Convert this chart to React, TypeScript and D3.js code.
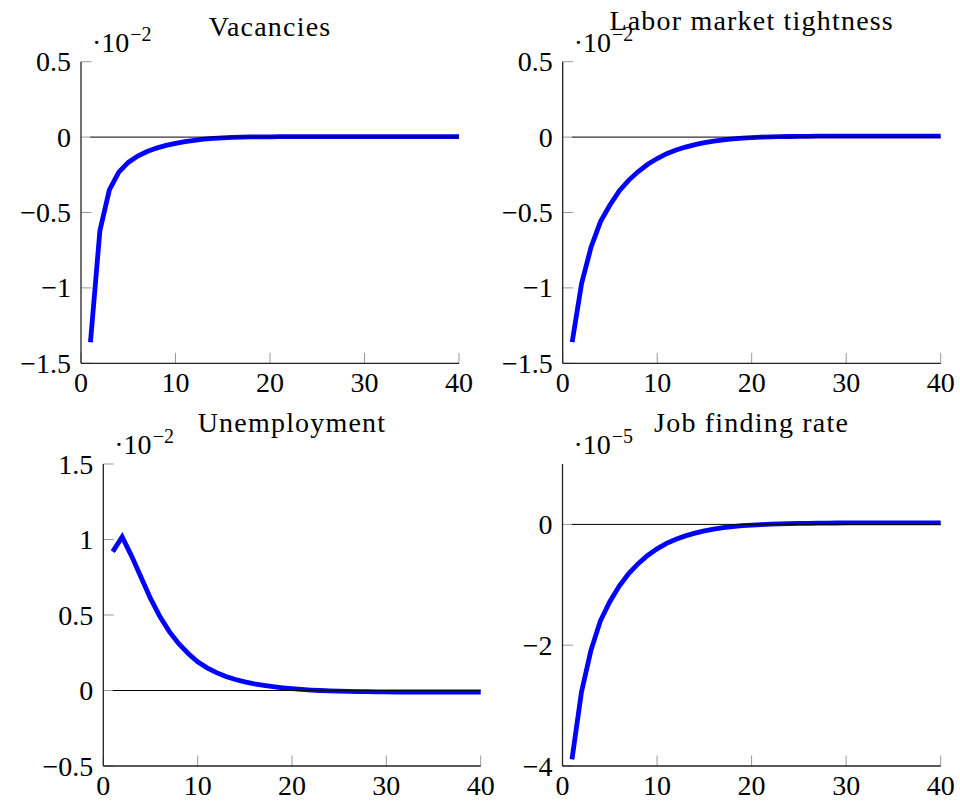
import React from "react";
import * as d3 from "d3";

// ---- Data (x = 1..40) ----
const periods: number[] = Array.from({ length: 40 }, (_, i) => i + 1);

const vacancies: number[] = [
  -1.36, -0.62, -0.35, -0.232, -0.168, -0.126, -0.096, -0.073, -0.055, -0.041,
  -0.03, -0.021, -0.014, -0.009, -0.005, -0.002, 0.0, 0.001, 0.002, 0.002,
  0.003, 0.003, 0.003, 0.003, 0.003, 0.003, 0.003, 0.003, 0.003, 0.003,
  0.003, 0.003, 0.003, 0.003, 0.003, 0.003, 0.003, 0.003, 0.003, 0.003,
];

const tightness: number[] = [
  -1.36, -0.97, -0.73, -0.56, -0.45, -0.355, -0.285, -0.228, -0.18, -0.142,
  -0.11, -0.086, -0.066, -0.05, -0.037, -0.027, -0.019, -0.012, -0.007, -0.003,
  0.0, 0.002, 0.003, 0.004, 0.005, 0.005, 0.006, 0.006, 0.006, 0.006,
  0.006, 0.006, 0.006, 0.006, 0.006, 0.006, 0.006, 0.006, 0.006, 0.006,
];

const unemployment: number[] = [
  0.92, 1.017, 0.89, 0.75, 0.61, 0.49, 0.39, 0.31, 0.245, 0.19,
  0.15, 0.118, 0.093, 0.073, 0.057, 0.044, 0.034, 0.025, 0.018, 0.012,
  0.007, 0.003, 0.0, -0.002, -0.004, -0.006, -0.007, -0.008, -0.009, -0.009,
  -0.01, -0.01, -0.01, -0.01, -0.01, -0.01, -0.01, -0.01, -0.01, -0.01,
];

const jobFinding: number[] = [
  -3.89, -2.78, -2.09, -1.6, -1.28, -1.02, -0.815, -0.65, -0.515, -0.405,
  -0.315, -0.245, -0.19, -0.145, -0.108, -0.078, -0.055, -0.036, -0.022, -0.011,
  -0.003, 0.004, 0.009, 0.013, 0.016, 0.018, 0.02, 0.022, 0.023, 0.024,
  0.025, 0.025, 0.025, 0.025, 0.025, 0.025, 0.025, 0.025, 0.025, 0.025,
];

const titles: string[] = ["Vacancies", "Labor market tightness", "Unemployment", "Job finding rate"];
const exponents: string[] = ["−2", "−2", "−2", "−5"];
const xTicks: number[] = [0, 10, 20, 30, 40];
const yTicksVac: number[] = [-1.5, -1, -0.5, 0, 0.5];
const yTicksTight: number[] = [-1.5, -1, -0.5, 0, 0.5];
const yTicksUnemp: number[] = [-0.5, 0, 0.5, 1, 1.5];
const yTicksJob: number[] = [-4, -2, 0];

// ---- Layout ----
type Panel = {
  title: string;
  exp: string;
  values: number[];
  yDomain: [number, number];
  yTicks: number[];
  left: number;
  right: number;
  top: number;
  bottom: number;
  titleY: number;
};

const panels: Panel[] = [
  { title: titles[0], exp: exponents[0], values: vacancies, yDomain: [-1.5, 0.5], yTicks: yTicksVac, left: 81, right: 459, top: 61.7, bottom: 363.3, titleY: 36 },
  { title: titles[1], exp: exponents[1], values: tightness, yDomain: [-1.5, 0.5], yTicks: yTicksTight, left: 562.7, right: 940.7, top: 61.7, bottom: 363.3, titleY: 30 },
  { title: titles[2], exp: exponents[2], values: unemployment, yDomain: [-0.5, 1.5], yTicks: yTicksUnemp, left: 103.3, right: 480.7, top: 464, bottom: 766, titleY: 432 },
  { title: titles[3], exp: exponents[3], values: jobFinding, yDomain: [-4, 1], yTicks: yTicksJob, left: 562.5, right: 940.7, top: 464, bottom: 766, titleY: 432 },
];

const FONT = "'Liberation Serif', 'Times New Roman', serif";

function fmt(v: number): string {
  const s = String(Math.abs(v));
  return v < 0 ? "−" + s : s;
}

function PanelView({ p }: { p: Panel }) {
  const x = d3.scaleLinear().domain([0, 40]).range([p.left, p.right]);
  const y = d3.scaleLinear().domain(p.yDomain).range([p.bottom, p.top]);
  const line = d3
    .line<number>()
    .x((_, i) => x(periods[i]))
    .y((d) => y(d));
  const cx = (p.left + p.right) / 2;
  return (
    <g>
      {/* ticks */}
      {xTicks.map((t) => (
        <line key={"xt" + t} x1={x(t)} x2={x(t)} y1={p.bottom} y2={p.bottom - 10.5} stroke="#9a9a9a" strokeWidth={1} />
      ))}
      {p.yTicks.map((t) => (
        <line key={"yt" + t} x1={p.left} x2={p.left + 10.5} y1={y(t)} y2={y(t)} stroke="#9a9a9a" strokeWidth={1} />
      ))}
      {/* axis lines */}
      <line x1={p.left} x2={p.left} y1={p.top} y2={p.bottom} stroke="#222" strokeWidth={1.3} />
      <line x1={p.left} x2={p.right} y1={p.bottom} y2={p.bottom} stroke="#222" strokeWidth={1.3} />
      {/* tick labels */}
      {xTicks.map((t) => (
        <text key={"xl" + t} x={x(t)} y={p.bottom + 29} textAnchor="middle" fontFamily={FONT} fontSize={28} fill="#000">
          {t}
        </text>
      ))}
      {p.yTicks.map((t) => (
        <text key={"yl" + t} x={p.left - 10} y={y(t) + 9.5} textAnchor="end" fontFamily={FONT} fontSize={28} fill="#000">
          {fmt(t)}
        </text>
      ))}
      {/* series */}
      <path d={line(p.values) || ""} fill="none" stroke="#0000ff" strokeWidth={4.8} strokeLinejoin="miter" strokeLinecap="butt" />
      {/* zero line */}
      <line x1={x(1)} x2={x(40)} y1={y(0)} y2={y(0)} stroke="#000" strokeWidth={1} />
      {/* multiplier */}
      <text x={p.left + 11} y={p.top - 10} fontFamily={FONT} fontSize={28} fill="#000">
        ·10
        <tspan fontSize={20} dy={-11} dx={1}>{p.exp}</tspan>
      </text>
      {/* title */}
      <text x={cx} y={p.titleY} textAnchor="middle" fontFamily={FONT} fontSize={28} letterSpacing={1.2} fill="#000">
        {p.title}
      </text>
    </g>
  );
}

export default function App() {
  return (
    <svg
      width={960}
      height={802}
      viewBox="0 0 960 802"
      style={{ position: "absolute", left: 0, top: 0, background: "#fff" }}
    >
      <rect x={0} y={0} width={960} height={802} fill="#fff" />
      {panels.map((p, i) => (
        <PanelView key={i} p={p} />
      ))}
    </svg>
  );
}
